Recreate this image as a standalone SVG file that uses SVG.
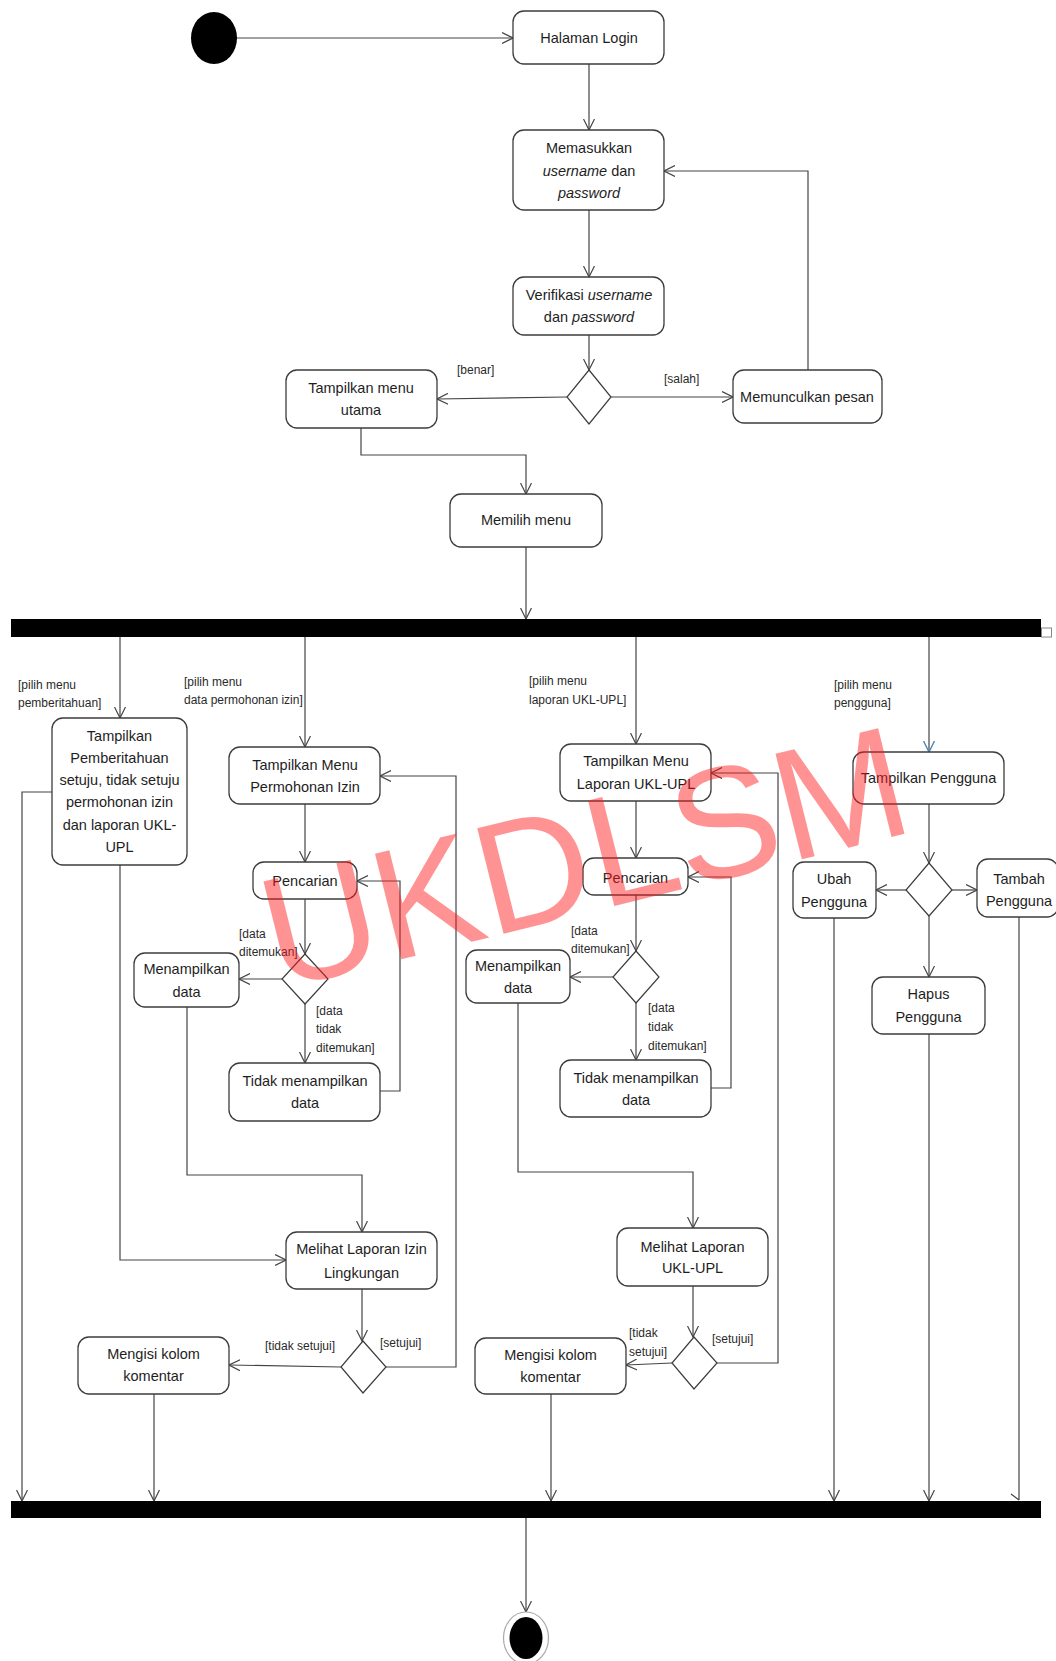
<svg xmlns="http://www.w3.org/2000/svg" width="1056" height="1661" viewBox="0 0 1056 1661">
  <style>
    .box { fill: #ffffff; stroke: #3c3c3c; stroke-width: 1.3; }
    .dia { fill: #ffffff; stroke: #3c3c3c; stroke-width: 1.2; }
    .t { font-family: "Liberation Sans", Arial, sans-serif; font-size: 14.5px; fill: #1e1e1e; text-anchor: middle; }
    .lbl { font-family: "Liberation Sans", Arial, sans-serif; font-size: 12px; fill: #2a2a2a; }
    .e { fill: none; stroke: #444444; stroke-width: 1.2; }
    .a { marker-end: url(#arr); }
    .bar { fill: #000000; }
    .wm { font-family: "Liberation Sans", Arial, sans-serif; font-size: 158px; fill: #ff1a1a; fill-opacity: 0.47; }
  </style>
  <defs>
    <marker id="arr" viewBox="0 0 12 12" refX="11" refY="6" markerWidth="12" markerHeight="12" markerUnits="userSpaceOnUse" orient="auto">
      <path d="M0,0.5 L11,6 L0,11.5" fill="none" stroke="#444444" stroke-width="1.2"/>
    </marker>
    <marker id="arrBlue" viewBox="0 0 12 12" refX="11" refY="6" markerWidth="12" markerHeight="12" markerUnits="userSpaceOnUse" orient="auto">
      <path d="M0,0.5 L11,6 L0,11.5" fill="none" stroke="#4a86b4" stroke-width="1.4"/>
    </marker>
  </defs>
  <rect width="1056" height="1661" fill="#ffffff"/>

  <!-- connectors -->
  <g id="connectors">
    <path class="e a" d="M237,38 H513"/>
    <path class="e a" d="M589,64 V130"/>
    <path class="e a" d="M589,210 V277"/>
    <path class="e a" d="M589,335 V370"/>
    <path class="e a" d="M567,397 L437,399"/>
    <path class="e a" d="M611,397 H733"/>
    <path class="e a" d="M808,370 V171 H664"/>
    <path class="e a" d="M361,428 V455 H526 V494"/>
    <path class="e a" d="M526,547 V619"/>

    <!-- fork branches -->
    <path class="e a" d="M120,637 V718"/>
    <path class="e a" d="M305,637 V747"/>
    <path class="e a" d="M636,637 V744"/>
    <path class="e" d="M929,637 V752" marker-end="url(#arrBlue)"/>

    <!-- notification branch -->
    <path class="e a" d="M52,792 H22 V1501"/>
    <path class="e a" d="M120,865 V1260 H286"/>

    <!-- permit branch -->
    <path class="e a" d="M305,804 V862"/>
    <path class="e a" d="M305,899 V954"/>
    <path class="e a" d="M282,979 H239"/>
    <path class="e a" d="M305,1004 V1063"/>
    <path class="e a" d="M380,1091 H400 V881 H357"/>
    <path class="e a" d="M187,1007 V1175 H362 V1232"/>
    <path class="e a" d="M362,1289 V1341"/>
    <path class="e a" d="M341,1367 L229,1365"/>
    <path class="e a" d="M386,1367 H456 V776 H380"/>
    <path class="e a" d="M154,1394 V1501"/>

    <!-- report branch -->
    <path class="e a" d="M636,801 V858"/>
    <path class="e a" d="M636,895 V951"/>
    <path class="e a" d="M613,977 H570"/>
    <path class="e a" d="M636,1003 V1060"/>
    <path class="e a" d="M711,1088 H731 V877 H688"/>
    <path class="e a" d="M518,1003 V1172 H693 V1228"/>
    <path class="e a" d="M693,1286 V1337"/>
    <path class="e a" d="M672,1363 L626,1365"/>
    <path class="e a" d="M717,1363 H778 V773 H711"/>
    <path class="e a" d="M551,1394 V1501"/>

    <!-- user branch -->
    <path class="e a" d="M929,804 V863"/>
    <path class="e a" d="M906,890 H876"/>
    <path class="e a" d="M952,890 H977"/>
    <path class="e a" d="M929,916 V977"/>
    <path class="e a" d="M834,918 V1501"/>
    <path class="e a" d="M929,1034 V1501"/>
    <path class="e" d="M1019,917 V1500 M1011,1494 L1019,1500"/>

    <path class="e a" d="M526,1518 V1612"/>

    <!-- guards -->
    <text class="lbl" x="457" y="374">[benar]</text>
    <text class="lbl" x="664" y="383">[salah]</text>
    <text class="lbl" x="18" y="689">[pilih menu</text>
    <text class="lbl" x="18" y="707">pemberitahuan]</text>
    <text class="lbl" x="184" y="686">[pilih menu</text>
    <text class="lbl" x="184" y="704">data permohonan izin]</text>
    <text class="lbl" x="529" y="685">[pilih menu</text>
    <text class="lbl" x="529" y="704">laporan UKL-UPL]</text>
    <text class="lbl" x="834" y="689">[pilih menu</text>
    <text class="lbl" x="834" y="707">pengguna]</text>
    <text class="lbl" x="239" y="938">[data</text>
    <text class="lbl" x="239" y="956">ditemukan]</text>
    <text class="lbl" x="316" y="1015">[data</text>
    <text class="lbl" x="316" y="1033">tidak</text>
    <text class="lbl" x="316" y="1052">ditemukan]</text>
    <text class="lbl" x="571" y="935">[data</text>
    <text class="lbl" x="571" y="953">ditemukan]</text>
    <text class="lbl" x="648" y="1012">[data</text>
    <text class="lbl" x="648" y="1031">tidak</text>
    <text class="lbl" x="648" y="1050">ditemukan]</text>
    <text class="lbl" x="265" y="1350">[tidak setujui]</text>
    <text class="lbl" x="380" y="1347">[setujui]</text>
    <text class="lbl" x="629" y="1337">[tidak</text>
    <text class="lbl" x="629" y="1356">setujui]</text>
    <text class="lbl" x="712" y="1343">[setujui]</text>
  </g>

  <!-- initial node -->
  <g id="start"><ellipse cx="214" cy="38" rx="23" ry="26" fill="#000000"/></g>

  <g id="n_login">
    <rect class="box" x="513" y="11" width="151" height="53" rx="11"/>
    <text class="t" x="589" y="43">Halaman Login</text>
  </g>
  <g id="n_input">
    <rect class="box" x="513" y="130" width="151" height="80" rx="11"/>
    <text class="t" x="589" y="153">Memasukkan</text>
    <text class="t" x="589" y="176"><tspan font-style="italic">username</tspan> dan</text>
    <text class="t" x="589" y="198" font-style="italic">password</text>
  </g>
  <g id="n_verify">
    <rect class="box" x="513" y="277" width="151" height="58" rx="11"/>
    <text class="t" x="589" y="300">Verifikasi <tspan font-style="italic">username</tspan></text>
    <text class="t" x="589" y="322">dan <tspan font-style="italic">password</tspan></text>
  </g>
  <g id="d_login"><path class="dia" d="M589,370 L611,397 L589,424 L567,397 Z"/></g>
  <g id="n_mainmenu">
    <rect class="box" x="286" y="370" width="151" height="58" rx="11"/>
    <text class="t" x="361" y="393">Tampilkan menu</text>
    <text class="t" x="361" y="415">utama</text>
  </g>
  <g id="n_message">
    <rect class="box" x="733" y="370" width="149" height="53" rx="11"/>
    <text class="t" x="807" y="402">Memunculkan pesan</text>
  </g>
  <g id="n_choose">
    <rect class="box" x="450" y="494" width="152" height="53" rx="11"/>
    <text class="t" x="526" y="525">Memilih menu</text>
  </g>

  <!-- fork -->
  <g id="fork">
    <rect class="bar" x="11" y="619" width="1030" height="18"/>
    <rect x="1041.5" y="628" width="10" height="9" fill="#ffffff" stroke="#888888" stroke-width="1"/>
  </g>

  <g id="n_notif">
    <rect class="box" x="52" y="718" width="135" height="147" rx="11"/>
    <text class="t" x="119.5" y="741">Tampilkan</text>
    <text class="t" x="119.5" y="763">Pemberitahuan</text>
    <text class="t" x="119.5" y="785">setuju, tidak setuju</text>
    <text class="t" x="119.5" y="807">permohonan izin</text>
    <text class="t" x="119.5" y="830">dan laporan UKL-</text>
    <text class="t" x="119.5" y="852">UPL</text>
  </g>

  <g id="n_permit_menu">
    <rect class="box" x="229" y="747" width="151" height="57" rx="11"/>
    <text class="t" x="305" y="770">Tampilkan Menu</text>
    <text class="t" x="305" y="792">Permohonan Izin</text>
  </g>
  <g id="n_permit_search">
    <rect class="box" x="253" y="862" width="104" height="37" rx="11"/>
    <text class="t" x="305" y="886">Pencarian</text>
  </g>
  <g id="d_permit_search"><path class="dia" d="M305,954 L328,979 L305,1004 L282,979 Z"/></g>
  <g id="n_permit_show">
    <rect class="box" x="134" y="953" width="105" height="54" rx="11"/>
    <text class="t" x="186.5" y="974">Menampilkan</text>
    <text class="t" x="186.5" y="997">data</text>
  </g>
  <g id="n_permit_none">
    <rect class="box" x="229" y="1063" width="151" height="58" rx="11"/>
    <text class="t" x="305" y="1086">Tidak menampilkan</text>
    <text class="t" x="305" y="1108">data</text>
  </g>
  <g id="n_permit_view">
    <rect class="box" x="286" y="1232" width="151" height="57" rx="11"/>
    <text class="t" x="361.5" y="1254">Melihat Laporan Izin</text>
    <text class="t" x="361.5" y="1278">Lingkungan</text>
  </g>
  <g id="d_permit_approve"><path class="dia" d="M363,1341 L386,1367 L363,1393 L341,1367 Z"/></g>
  <g id="n_permit_comment">
    <rect class="box" x="78" y="1337" width="151" height="57" rx="11"/>
    <text class="t" x="153.5" y="1359">Mengisi kolom</text>
    <text class="t" x="153.5" y="1381">komentar</text>
  </g>

  <g id="n_report_menu">
    <rect class="box" x="560" y="744" width="151" height="57" rx="11"/>
    <text class="t" x="636" y="766">Tampilkan Menu</text>
    <text class="t" x="636" y="789">Laporan UKL-UPL</text>
  </g>
  <g id="n_report_search">
    <rect class="box" x="583" y="858" width="105" height="37" rx="11"/>
    <text class="t" x="635.5" y="883">Pencarian</text>
  </g>
  <g id="d_report_search"><path class="dia" d="M636,951 L659,977 L636,1003 L613,977 Z"/></g>
  <g id="n_report_show">
    <rect class="box" x="466" y="950" width="104" height="53" rx="11"/>
    <text class="t" x="518" y="971">Menampilkan</text>
    <text class="t" x="518" y="993">data</text>
  </g>
  <g id="n_report_none">
    <rect class="box" x="560" y="1060" width="151" height="57" rx="11"/>
    <text class="t" x="636" y="1083">Tidak menampilkan</text>
    <text class="t" x="636" y="1105">data</text>
  </g>
  <g id="n_report_view">
    <rect class="box" x="617" y="1228" width="151" height="58" rx="11"/>
    <text class="t" x="692.5" y="1252">Melihat Laporan</text>
    <text class="t" x="692.5" y="1273">UKL-UPL</text>
  </g>
  <g id="d_report_approve"><path class="dia" d="M694,1337 L717,1363 L694,1389 L672,1363 Z"/></g>
  <g id="n_report_comment">
    <rect class="box" x="475" y="1338" width="151" height="56" rx="11"/>
    <text class="t" x="550.5" y="1360">Mengisi kolom</text>
    <text class="t" x="550.5" y="1382">komentar</text>
  </g>

  <g id="n_users">
    <rect class="box" x="853" y="752" width="151" height="52" rx="11"/>
    <text class="t" x="928.5" y="783">Tampilkan Pengguna</text>
  </g>
  <g id="d_users"><path class="dia" d="M929,863 L952,890 L929,916 L906,890 Z"/></g>
  <g id="n_user_edit">
    <rect class="box" x="793" y="862" width="83" height="56" rx="11"/>
    <text class="t" x="834" y="884">Ubah</text>
    <text class="t" x="834" y="907">Pengguna</text>
  </g>
  <g id="n_user_add">
    <rect class="box" x="977" y="859" width="81" height="58" rx="11"/>
    <text class="t" x="1019" y="884">Tambah</text>
    <text class="t" x="1019" y="906">Pengguna</text>
  </g>
  <g id="n_user_delete">
    <rect class="box" x="872" y="977" width="113" height="57" rx="11"/>
    <text class="t" x="928.5" y="999">Hapus</text>
    <text class="t" x="928.5" y="1022">Pengguna</text>
  </g>

  <!-- join -->
  <g id="join"><rect class="bar" x="11" y="1501" width="1030" height="17"/></g>

  <!-- final node -->
  <g id="end">
    <ellipse cx="526" cy="1638" rx="22.5" ry="26" fill="#ffffff" stroke="#aaaaaa" stroke-width="1.2"/>
    <ellipse cx="526" cy="1638" rx="16.5" ry="21" fill="#000000"/>
  </g>

  <!-- overlay lettering -->
  <g id="watermark">
    <text class="wm" transform="translate(278,990) rotate(-14)">UKDLSM</text>
  </g>
</svg>
